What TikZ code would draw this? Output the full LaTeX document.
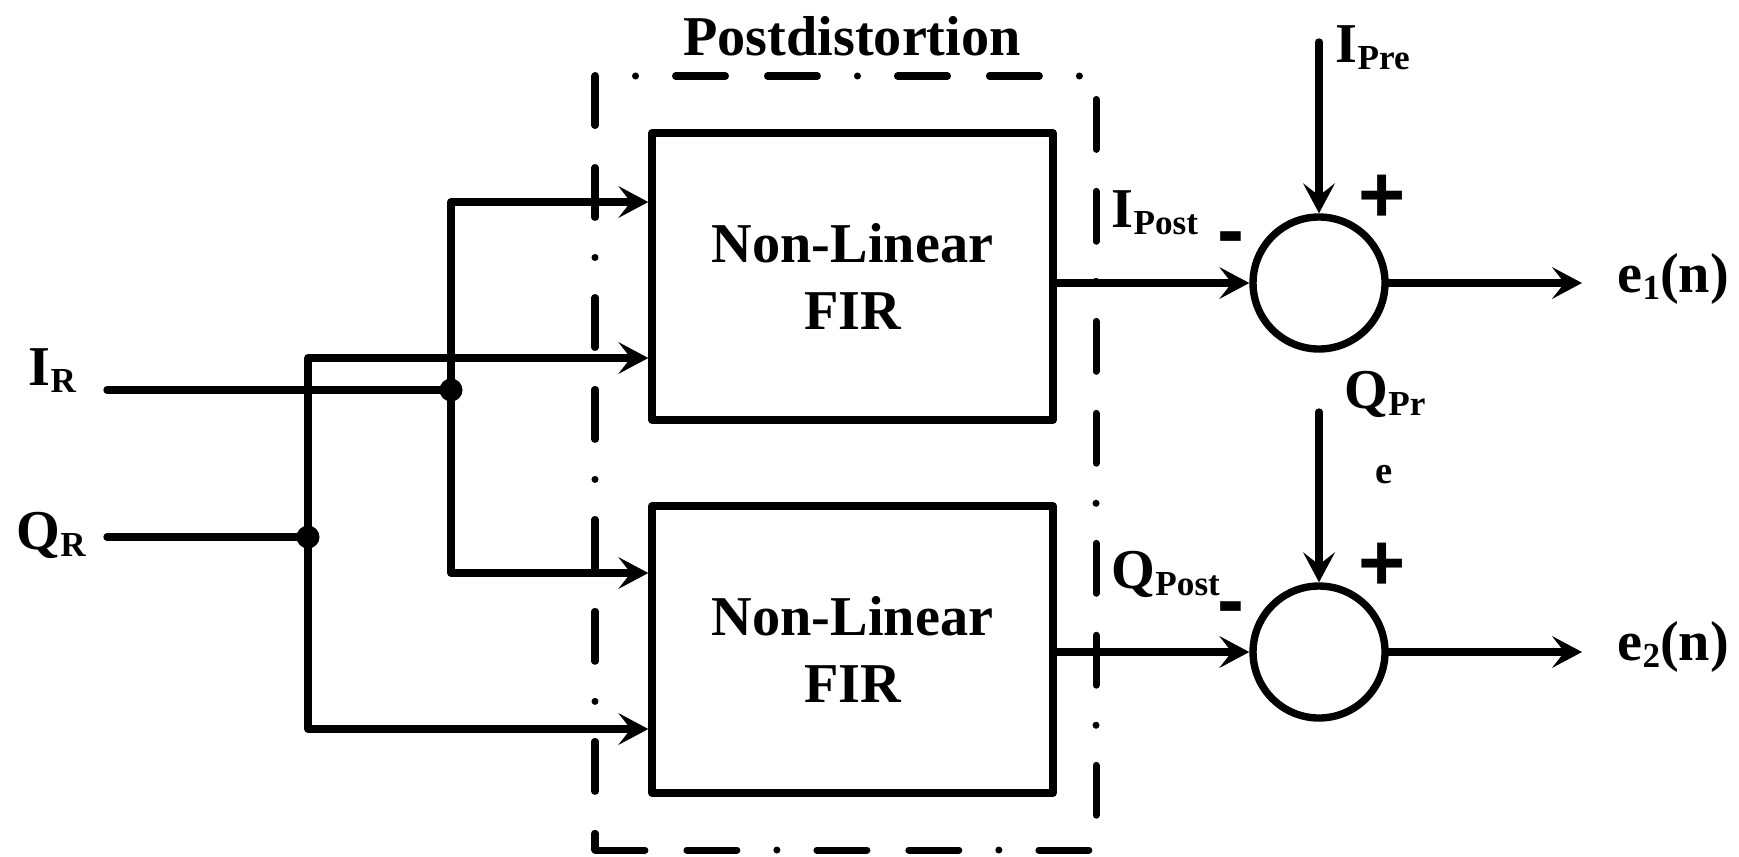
\documentclass[tikz,border=0pt]{standalone}
\usepackage{fontspec}
\setmainfont{Liberation Serif}
\newfontfamily\signfont{Liberation Sans}
\usetikzlibrary{positioning, arrows.meta, calc}

\newcommand{\lsub}[1]{\raisebox{-2pt}{\fontsize{10}{12}\selectfont #1}}

\begin{document}
\begin{tikzpicture}[
    font=\bfseries\fontsize{16}{19.3}\selectfont,
    line width=2.1pt, line cap=round, line join=round,
    fir/.style={draw, rectangle, minimum width=4.01cm, minimum height=2.87cm,
                align=center, inner sep=0pt},
    sum/.style={draw, circle, minimum size=1.32cm, inner sep=0pt},
    jn/.style={circle, fill=black, minimum size=0.23cm, inner sep=0pt},
    lab/.style={anchor=base west, inner sep=0pt},
    sgn/.style={font=\signfont\bfseries\fontsize{23}{23}\selectfont,
                anchor=base, inner sep=0pt},
    sig/.style={-{Stealth[length=8.5pt, width=9pt, inset=3.5pt]}},
    frame/.style={line width=2pt,
                  dash pattern=on 14.2pt off 11.95pt on 14.2pt off 11.4pt on 0pt off 11.4pt},
  ]

\useasboundingbox (0,0) rectangle (17.39,8.56);

\node[anchor=base, inner sep=0pt] (title) at (8.52,8.01) {Postdistortion};
\draw[frame] (5.95,0.06) -- (10.96,0.06) -- (10.96,7.80) -- (5.95,7.80) -- cycle;

\node[fir] (firI) at (8.525,5.795) {Non-Linear\\FIR};
\node[fir] (firQ) at (8.525,2.065) {Non-Linear\\FIR};

\node[sum] (sumI) at (13.19,5.73) {};
\node[sum] (sumQ) at (13.19,2.04) {};

\node[lab] (iR) at (0.25,4.71) {I\lsub{R}};
\node[lab] (qR) at (0.13,3.07) {Q\lsub{R}};
\node[lab] (iPost) at (11.08,6.29) {I\lsub{Post}};
\node[lab] (qPost) at (11.08,2.68) {Q\lsub{Post}};
\node[lab] (iPre) at (13.32,7.94) {I\lsub{Pre}};
\node[lab] (qPr) at (13.41,4.48) {Q\lsub{Pr}};
\node[anchor=base, inner sep=0pt, font=\bfseries\fontsize{11}{13}\selectfont]
    (qPrE) at (13.84,3.73) {e};
\node[lab] (e1) at (16.14,5.64) {e\lsub{1}(n)};
\node[lab] (e2) at (16.14,1.96) {e\lsub{2}(n)};

\node[sgn] (plusI) at (13.82,6.34) {+};
\node[sgn] (minusI) at (12.31,5.99) {-};
\node[sgn] (plusQ) at (13.82,2.66) {+};
\node[sgn] (minusQ) at (12.31,2.29) {-};

\coordinate (inI) at (1.07,4.66);
\coordinate (inQ) at (1.07,3.19);
\coordinate (preI) at (13.19,8.14);
\coordinate (preQ) at (13.19,4.44);
\coordinate (outI) at (15.82,5.73);
\coordinate (outQ) at (15.82,2.04);

\node[jn] (jI) at (4.51,4.66) {};
\node[jn] (jQ) at (3.08,3.19) {};

\draw (inI) -- (jI.center);
\draw (inQ) -- (jQ.center);
\draw[sig] (jI.center) |- (firI.west |- 0,6.54);
\draw[sig] (jI.center) |- (firQ.west |- 0,2.83);
\draw[sig] (jQ.center) |- (firI.west |- 0,4.98);
\draw[sig] (jQ.center) |- (firQ.west |- 0,1.27);

\draw[sig] (firI.east |- sumI) -- (sumI);
\draw[sig] (firQ.east |- sumQ) -- (sumQ);
\draw[sig] (preI) -- (sumI);
\draw[sig] (preQ) -- (sumQ);
\draw[sig] (sumI) -- (outI);
\draw[sig] (sumQ) -- (outQ);
\end{tikzpicture}
\end{document}
